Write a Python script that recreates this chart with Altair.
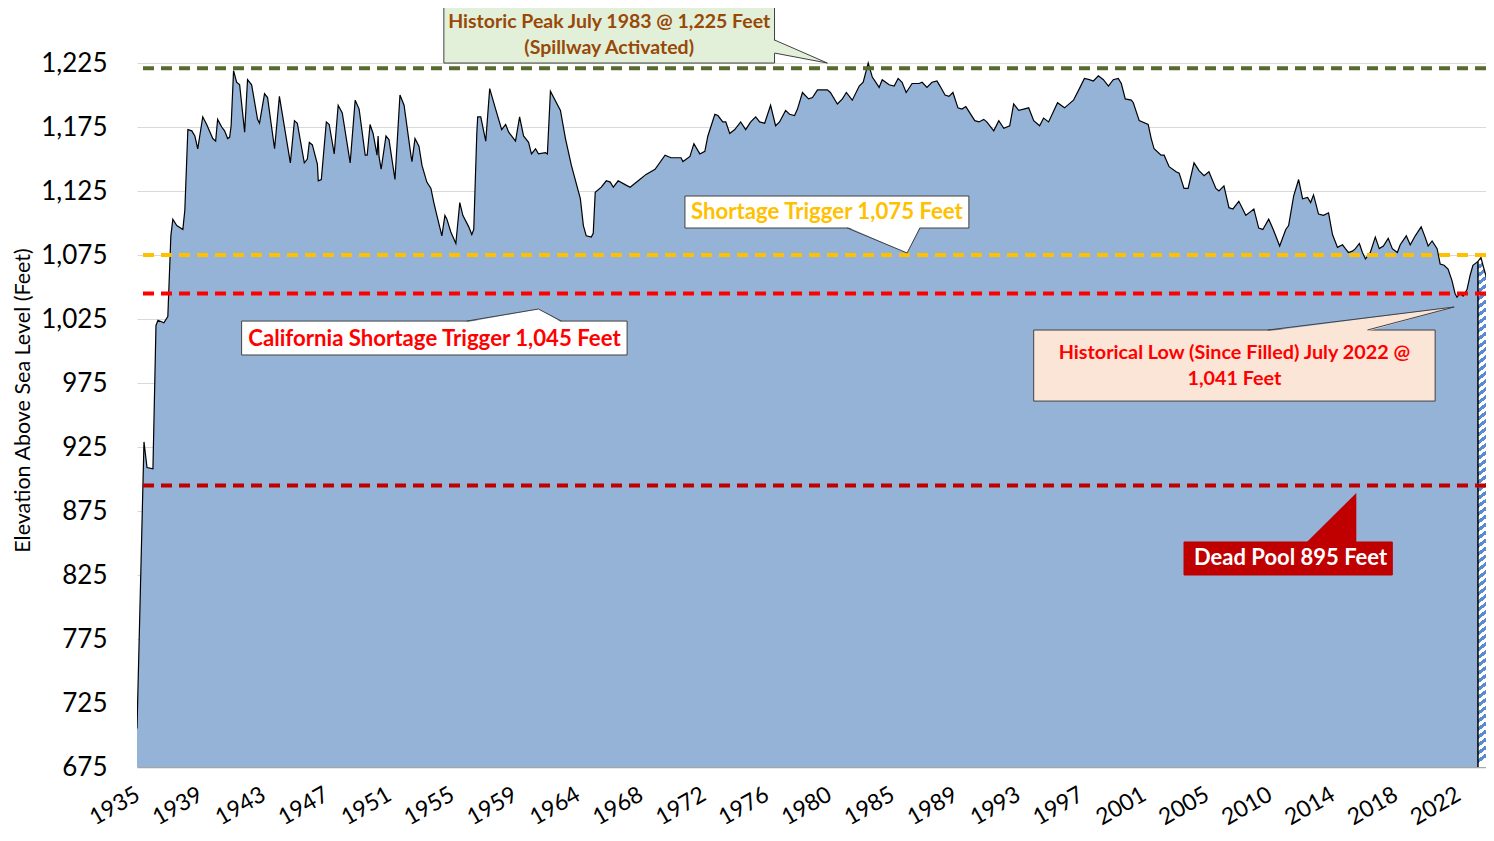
import altair as alt
import pandas as pd
import numpy as np

# ---- Data (decimal year, elevation in feet) ----
years = [
    1935.00, 1935.46, 1935.66, 1936.05, 1936.25, 1936.38, 1936.77, 1937.03, 1937.23, 1937.36,
    1937.62, 1938.02, 1938.15, 1938.35, 1938.61, 1938.81, 1939.00, 1939.33, 1939.59, 1939.99,
    1940.18, 1940.31, 1940.58, 1940.77, 1940.97, 1941.10, 1941.20, 1941.36, 1941.56, 1941.76,
    1942.09, 1942.28, 1942.55, 1942.94, 1943.07, 1943.40, 1943.60, 1944.06, 1944.38, 1945.10,
    1945.37, 1945.56, 1946.02, 1946.22, 1946.35, 1946.55, 1946.88, 1946.94, 1947.14, 1947.47,
    1947.66, 1947.99, 1948.25, 1948.52, 1949.04, 1949.37, 1949.63, 1950.03, 1950.16, 1950.35,
    1950.55, 1950.81, 1950.88, 1950.94, 1951.08, 1951.40, 1951.60, 1951.99, 1952.32, 1952.59,
    1953.04, 1953.11, 1953.31, 1953.57, 1953.77, 1954.09, 1954.36, 1954.55, 1954.75, 1955.08,
    1955.28, 1955.41, 1955.67, 1956.00, 1956.26, 1956.46, 1956.85, 1957.05, 1957.18, 1957.38,
    1957.44, 1957.64, 1957.97, 1958.23, 1958.62, 1959.02, 1959.28, 1959.48, 1959.93, 1960.20,
    1960.46, 1960.79, 1960.98, 1961.25, 1961.44, 1961.90, 1962.03, 1962.23, 1962.89, 1963.22,
    1963.61, 1964.20, 1964.40, 1964.59, 1964.92, 1965.05, 1965.18, 1965.58, 1965.91, 1966.17,
    1966.37, 1966.69, 1967.15, 1967.48, 1968.01, 1968.53, 1969.12, 1969.78, 1970.17, 1970.83,
    1970.96, 1971.42, 1971.68, 1972.07, 1972.40, 1972.60, 1973.06, 1973.26, 1973.58, 1973.78,
    1974.04, 1974.37, 1974.76, 1975.09, 1975.42, 1975.75, 1976.01, 1976.34, 1976.73, 1977.06,
    1977.32, 1977.72, 1977.98, 1978.31, 1978.50, 1978.83, 1979.23, 1979.49, 1979.82, 1980.14,
    1980.47, 1980.67, 1981.13, 1981.46, 1981.72, 1982.11, 1982.57, 1982.83, 1983.16, 1983.43,
    1983.88, 1984.08, 1984.54, 1984.87, 1985.13, 1985.39, 1985.66, 1986.05, 1986.51, 1986.71,
    1987.03, 1987.36, 1987.69, 1987.89, 1988.22, 1988.48, 1988.74, 1989.07, 1989.33, 1989.59,
    1990.18, 1990.45, 1990.77, 1990.97, 1991.43, 1991.76, 1992.09, 1992.48, 1992.74, 1993.07,
    1993.40, 1993.73, 1994.06, 1994.45, 1994.71, 1995.04, 1995.63, 1996.09, 1996.68, 1997.07,
    1997.40, 1997.73, 1997.99, 1998.32, 1998.65, 1998.98, 1999.30, 1999.63, 1999.83, 2000.09,
    2000.49, 2000.62, 2001.01, 2001.60, 2001.80, 2001.99, 2002.45, 2002.65, 2002.98, 2003.44,
    2003.64, 2003.96, 2004.23, 2004.62, 2004.95, 2005.28, 2005.60, 2006.06, 2006.26, 2006.59,
    2006.92, 2007.18, 2007.57, 2008.03, 2008.56, 2008.88, 2009.15, 2009.54, 2009.87, 2010.26,
    2010.66, 2010.85, 2011.18, 2011.51, 2011.77, 2012.10, 2012.30, 2012.49, 2012.82, 2013.15,
    2013.48, 2013.74, 2014.07, 2014.40, 2014.59, 2014.79, 2015.05, 2015.25, 2015.51, 2015.71,
    2015.91, 2016.23, 2016.56, 2016.82, 2017.09, 2017.41, 2017.68, 2018.01, 2018.20, 2018.60,
    2018.86, 2019.19, 2019.58, 2019.84, 2020.04, 2020.30, 2020.63, 2020.83, 2021.09, 2021.35,
    2021.61, 2021.81, 2021.94, 2022.14, 2022.34, 2022.60, 2022.80, 2022.99, 2023.32, 2023.52,
    2023.65, 2023.91, 2024.04,
]
elevation = [
    705, 929, 909, 908, 1020, 1024, 1022, 1027, 1090, 1103,
    1098, 1095, 1110, 1173, 1172, 1168, 1158, 1183, 1177, 1166,
    1164, 1181, 1175, 1172, 1166, 1167, 1176, 1219, 1210, 1208,
    1171, 1212, 1208, 1181, 1178, 1201, 1198, 1158, 1199, 1147,
    1180, 1178, 1147, 1150, 1163, 1161, 1146, 1133, 1134, 1179,
    1177, 1154, 1192, 1186, 1147, 1196, 1189, 1153, 1153, 1177,
    1170, 1153, 1168, 1152, 1142, 1168, 1165, 1134, 1200, 1192,
    1153, 1148, 1166, 1160, 1145, 1132, 1127, 1116, 1106, 1090,
    1106, 1103, 1093, 1084, 1116, 1106, 1097, 1091, 1095, 1170,
    1183, 1183, 1164, 1205, 1189, 1173, 1177, 1171, 1164, 1183,
    1168, 1163, 1154, 1158, 1154, 1155, 1154, 1203, 1188, 1166,
    1145, 1119, 1098, 1090, 1089, 1092, 1124, 1128, 1133, 1132,
    1128, 1133, 1130, 1128, 1133, 1138, 1142, 1153, 1151, 1151,
    1148, 1152, 1162, 1154, 1156, 1168, 1185, 1184, 1179, 1179,
    1170, 1173, 1179, 1173, 1179, 1183, 1179, 1178, 1192, 1176,
    1179, 1188, 1185, 1184, 1189, 1202, 1197, 1198, 1204, 1204,
    1204, 1202, 1193, 1197, 1202, 1196, 1207, 1210, 1225, 1214,
    1206, 1212, 1208, 1207, 1213, 1210, 1202, 1209, 1209, 1210,
    1206, 1210, 1211, 1207, 1200, 1199, 1202, 1190, 1189, 1191,
    1180, 1179, 1181, 1179, 1172, 1180, 1174, 1176, 1193, 1188,
    1189, 1190, 1180, 1176, 1182, 1179, 1194, 1190, 1196, 1205,
    1213, 1212, 1211, 1215, 1212, 1207, 1212, 1213, 1209, 1197,
    1196, 1194, 1180, 1177, 1166, 1158, 1153, 1153, 1144, 1140,
    1139, 1127, 1127, 1147, 1141, 1137, 1140, 1127, 1125, 1129,
    1112, 1111, 1117, 1106, 1111, 1096, 1095, 1103, 1094, 1082,
    1095, 1098, 1121, 1134, 1119, 1120, 1116, 1122, 1107, 1106,
    1108, 1091, 1081, 1083, 1080, 1077, 1078, 1080, 1084, 1077,
    1072, 1077, 1089, 1080, 1082, 1088, 1080, 1077, 1083, 1090,
    1083, 1090, 1097, 1089, 1082, 1086, 1080, 1068, 1067, 1064,
    1055, 1045, 1042, 1045, 1043, 1048, 1059, 1067, 1070, 1073,
    1067, 1056, 1055,
]
projection_start = 2023.32

tick_labels = ["1935", "1939", "1943", "1947", "1951", "1955", "1959", "1964",
               "1968", "1972", "1976", "1980", "1985", "1989", "1993", "1997",
               "2001", "2005", "2010", "2014", "2018", "2022"]
y_ticks = [675, 725, 775, 825, 875, 925, 975, 1025, 1075, 1125, 1175, 1225]

level_values = [1221, 1075, 1045, 895]
level_colors = ["#556B2F", "#FFC000", "#FF0000", "#C00000"]

# ---- Annotation layout (in data units) ----
box_x1 = [1955.21, 1971.09, 1941.89, 1994.06, 2003.96]
box_x2 = [1976.99, 1989.79, 1967.28, 2020.50, 2017.68]
box_y1 = [1225.0, 1096.1, 996.9, 960.9, 825.0]
box_y2 = [1269.5, 1121.1, 1023.4, 1016.4, 850.8]
box_fill = ["#E2F0D9", "#FFFFFF", "#FFFFFF", "#FBE5D6", "#C00000"]
box_stroke = ["#404040", "#404040", "#404040", "#404040", "#C00000"]

note_text = ["Historic Peak July 1983 @ 1,225 Feet\n(Spillway Activated)",
             "Shortage Trigger 1,075 Feet",
             "California Shortage Trigger 1,045 Feet",
             "Historical Low (Since Filled) July 2022  @\n1,041 Feet",
             "Dead Pool 895 Feet"]
note_x = [1966.10, 1980.44, 1954.59, 2007.28, 2010.98]
note_y = [1257.0, 1108.6, 1009.4, 998.4, 837.9]   # first-line centre
note_color = ["#984807", "#FFC000", "#FF0000", "#FF0000", "#FFFFFF"]
note_size = [19.5, 22.2, 22.2, 19.8, 22]

# callout wedges: base point A, tip B, base point C
wedge_id = ["peak", "short", "calif", "low", "dead"]
wedge_ax = [1976.99, 1981.78, 1956.72, 2009.48, 2011.97]
wedge_ay = [1243.0, 1096.1, 1023.4, 1016.4, 850.8]
wedge_bx = [1980.47, 1985.72, 1961.44, 2021.75, 2015.31]
wedge_by = [1225.0, 1076.6, 1032.8, 1034.4, 889.1]
wedge_cx = [1976.99, 1986.57, 1962.95, 2016.04, 2015.31]
wedge_cy = [1232.8, 1096.1, 1023.4, 1016.4, 850.8]
wedge_fill = ["#E2F0D9", "#FFFFFF", "#FFFFFF", "#FBE5D6", "#C00000"]

# ---- Build tables ----
df = pd.DataFrame({"year": years, "elev": elevation})
hist = df[df.year <= projection_start]
proj = df[df.year >= projection_start]

levels = pd.DataFrame({"value": level_values, "color": level_colors})
boxes = pd.DataFrame({"x1": box_x1, "x2": box_x2, "y1": box_y1, "y2": box_y2,
                      "fill": box_fill, "stroke": box_stroke})
notes = pd.DataFrame({"text": note_text, "x": note_x, "y": note_y,
                      "color": note_color, "size": note_size})

hw_rows = []
for i in range(1, 5):
    base_y = wedge_ay[i] - (0.9 if wedge_by[i] > wedge_ay[i] else -0.9)
    hw_rows.append({"id": wedge_id[i], "y": base_y, "xa": wedge_ax[i], "xb": wedge_cx[i],
                    "fill": wedge_fill[i]})
    hw_rows.append({"id": wedge_id[i], "y": wedge_by[i], "xa": wedge_bx[i], "xb": wedge_bx[i],
                    "fill": wedge_fill[i]})
hwedges = pd.DataFrame(hw_rows)
vwedges = pd.DataFrame([
    {"id": wedge_id[0], "x": wedge_ax[0] - 0.08, "ya": wedge_cy[0], "yb": wedge_ay[0], "fill": wedge_fill[0]},
    {"id": wedge_id[0], "x": wedge_bx[0], "ya": wedge_by[0], "yb": wedge_by[0], "fill": wedge_fill[0]},
])
ol_rows = []
for i in range(4):
    for s, (px, py) in enumerate([(wedge_ax[i], wedge_ay[i]), (wedge_bx[i], wedge_by[i]),
                                  (wedge_cx[i], wedge_cy[i])]):
        ol_rows.append({"id": wedge_id[i], "seq": s, "x": px, "y": py})
outlines = pd.DataFrame(ol_rows)

# ---- Scales & axes ----
W, H = 1349, 759
xs = alt.Scale(domain=[1935.0, 2023.85], nice=False, zero=False)
ys = alt.Scale(domain=[675.0, 1268.0], nice=False, zero=False)

tick_pos = [float(v) for v in np.linspace(1935, 2022, len(tick_labels))]
label_expr = "[" + ",".join("'%s'" % t for t in tick_labels) + "][round((datum.value-1935)*%d/87)]" % (len(tick_labels) - 1)

FONT = "Lato"
x_axis = alt.Axis(values=tick_pos, labelExpr=label_expr, labelAngle=330, labelAlign="right",
                  labelBaseline="top", labelPadding=16, labelOffset=-5, labelFont=FONT, labelFontSize=23,
                  labelColor="#000000", ticks=False, grid=False, domainColor="#A6A6A6",
                  domainWidth=1.5, title=None, labelOverlap=False, labelFlush=False, labelBound=False)
y_axis = alt.Axis(values=y_ticks, format=",.0f", labelFont=FONT, labelFontSize=26, labelColor="#000000",
                  labelPadding=30, ticks=False, domain=False, grid=True, gridColor="#D9D9D9",
                  gridWidth=1, labelFlush=False, labelOverlap=False,
                  title="Elevation Above Sea Level (Feet)", titleFont=FONT, titleFontSize=21.5,
                  titleFontWeight="normal", titleColor="#000000", titleAngle=270,
                  titleX=-114, titleY=392, titleAlign="center", titleBaseline="middle")

X = alt.X("year:Q", scale=xs, axis=x_axis)
Y = alt.Y("elev:Q", scale=ys, axis=y_axis)

area = alt.Chart(hist).mark_area(color="#95B3D7", opacity=1, clip=True).encode(x=X, y=Y, y2=alt.datum(675))

# diagonal hatch for the latest (provisional) segment
N = 64
stops = []
for i in range(N):
    a, b, c = i / N, (i + 0.5) / N, (i + 1) / N
    stops += [alt.GradientStop(color="#5A8AD0", offset=a), alt.GradientStop(color="#5A8AD0", offset=b),
              alt.GradientStop(color="#FFFFFF", offset=b), alt.GradientStop(color="#FFFFFF", offset=c)]
hatch_fill = alt.LinearGradient(gradient="linear", stops=stops, x1=0, y1=0, x2=0.016, y2=1)
hatch = alt.Chart(proj).mark_area(color=hatch_fill, opacity=1, clip=True).encode(
    x=alt.X("year:Q", scale=xs), y=alt.Y("elev:Q", scale=ys), y2=alt.datum(675))

line = alt.Chart(df).mark_line(color="#000000", strokeWidth=1.2, clip=True).encode(
    x=alt.X("year:Q", scale=xs), y=alt.Y("elev:Q", scale=ys))

edge = alt.Chart(proj.iloc[:1]).mark_rule(color="#000000", strokeWidth=1.5).encode(
    x=alt.X("year:Q", scale=xs), y=alt.Y("elev:Q", scale=ys), y2=alt.datum(675))

rules = alt.Chart(levels).mark_rule(strokeWidth=4, strokeDash=[11, 7]).encode(
    y=alt.Y("value:Q", scale=ys), color=alt.Color("color:N", scale=None))

rects = alt.Chart(boxes).mark_rect(strokeWidth=1).encode(
    x=alt.X("x1:Q", scale=xs), x2="x2:Q", y=alt.Y("y1:Q", scale=ys), y2="y2:Q",
    fill=alt.Color("fill:N", scale=None), stroke=alt.Color("stroke:N", scale=None))

hw = alt.Chart(hwedges).mark_area(orient="horizontal", opacity=1).encode(
    y=alt.Y("y:Q", scale=ys), x=alt.X("xa:Q", scale=xs), x2="xb:Q",
    fill=alt.Color("fill:N", scale=None), detail="id:N")
vw = alt.Chart(vwedges).mark_area(orient="vertical", opacity=1).encode(
    x=alt.X("x:Q", scale=xs), y=alt.Y("ya:Q", scale=ys), y2="yb:Q",
    fill=alt.Color("fill:N", scale=None), detail="id:N")
ol = alt.Chart(outlines).mark_line(color="#404040", strokeWidth=1).encode(
    x=alt.X("x:Q", scale=xs), y=alt.Y("y:Q", scale=ys), detail="id:N", order="seq:Q")

texts = alt.Chart(notes).mark_text(font=FONT, fontWeight="bold", lineBreak="\n", baseline="middle",
                                   align="center", lineHeight=25.5).encode(
    x=alt.X("x:Q", scale=xs), y=alt.Y("y:Q", scale=ys), text="text:N",
    color=alt.Color("color:N", scale=None), size=alt.Size("size:Q", scale=None))

chart = alt.layer(area, hatch, line, edge, rules, rects, hw, vw, ol, texts).properties(
    width=W, height=H, background="white",
    autosize=alt.AutoSizeParams(type="none"),
    padding={"left": 129, "top": 0, "right": 0, "bottom": 66},
).configure_view(strokeWidth=0, stroke="transparent")

chart.save("out.html", embed_options={"renderer": "svg", "actions": False})
